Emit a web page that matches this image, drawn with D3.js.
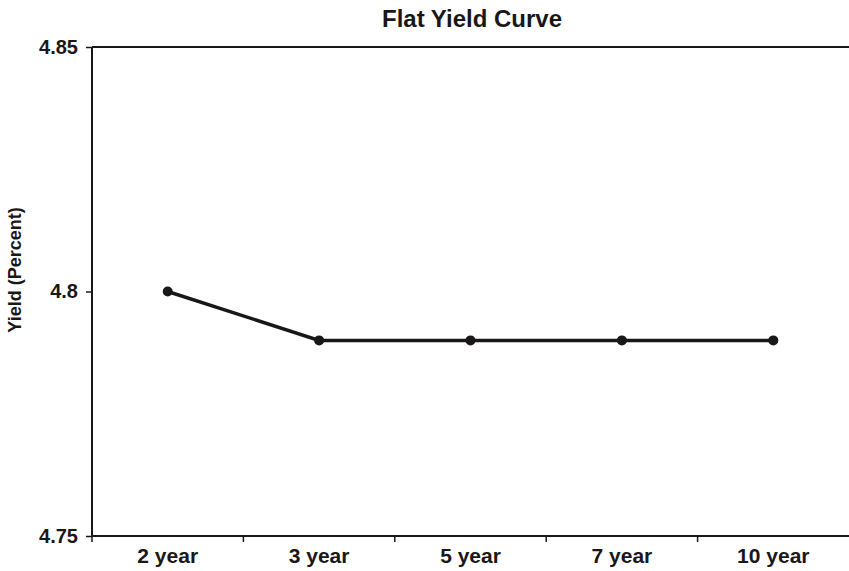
<!DOCTYPE html>
<html><head><meta charset="utf-8">
<script src="https://cdn.jsdelivr.net/npm/d3@7"></script>
<style>body{margin:0;background:#fff}svg{display:block}text{font-family:"Liberation Sans",Arial,sans-serif;font-weight:bold;fill:#1a1718}</style>
</head><body>
<script>
const categories = ["2 year","3 year","5 year","7 year","10 year"];
const yields = [4.80, 4.79, 4.79, 4.79, 4.79];
const yTicks = [4.75, 4.8, 4.85];
const yTickLabels = ["4.75","4.8","4.85"];
const title = "Flat Yield Curve";
const yTitle = "Yield (Percent)";

const W = 849, H = 571;
const m = {left: 92, right: 0, top: 47, bottom: 35};
const ink = "#1a1718";
const svg = d3.select("body").append("svg").attr("width", W).attr("height", H);

const x = d3.scaleBand().domain(categories).range([m.left, W - m.right]);
const y = d3.scaleLinear().domain([4.75, 4.85]).range([H - m.bottom, m.top]);

// top border
svg.append("line").attr("x1", m.left).attr("x2", W).attr("y1", y(4.85)).attr("y2", y(4.85))
  .attr("stroke", ink).attr("stroke-width", 2);

// y axis
const yAxis = svg.append("g").attr("transform", `translate(${m.left},0)`)
  .call(d3.axisLeft(y).tickValues(yTicks).tickFormat((d,i)=>yTickLabels[i]).tickSize(6).tickPadding(8));
yAxis.select(".domain").attr("stroke", ink).attr("stroke-width", 2).attr("d", `M0,${y(4.75)}V${y(4.85)}`);
yAxis.selectAll(".tick line").attr("stroke", ink).attr("stroke-width", 1.5);
yAxis.selectAll(".tick text").attr("font-size", 20).attr("font-family", null).attr("fill", ink);

// x axis
const xAxis = svg.append("g").attr("transform", `translate(0,${y(4.75)})`)
  .call(d3.axisBottom(x).tickSize(0).tickPadding(12));
xAxis.select(".domain").attr("stroke", ink).attr("stroke-width", 2).attr("d", `M${m.left},0H${W}`);
xAxis.selectAll(".tick text").attr("font-size", 21).attr("font-family", null).attr("fill", ink);
// band-boundary tick marks
xAxis.selectAll("line.bt").data(categories).enter().append("line").attr("class","bt")
  .attr("x1", d => x(d)).attr("x2", d => x(d)).attr("y1", 0).attr("y2", 6)
  .attr("stroke", ink).attr("stroke-width", 1.5);

// line
const line = d3.line().x((d,i)=>x(categories[i]) + x.bandwidth()/2).y(d=>y(d));
svg.append("path").datum(yields).attr("d", line).attr("fill","none").attr("stroke", ink).attr("stroke-width", 3.5);
svg.selectAll("circle.pt").data(yields).enter().append("circle").attr("class","pt")
  .attr("cx",(d,i)=>x(categories[i]) + x.bandwidth()/2).attr("cy", d=>y(d)).attr("r", 5).attr("fill", ink);

// titles
svg.append("text").attr("x", 472).attr("y", 27).attr("text-anchor","middle").attr("font-size", 24).text(title);
svg.append("text").attr("transform", `translate(21,${270}) rotate(-90)`).attr("text-anchor","middle")
  .attr("font-size", 18).text(yTitle);
</script>
</body></html>
